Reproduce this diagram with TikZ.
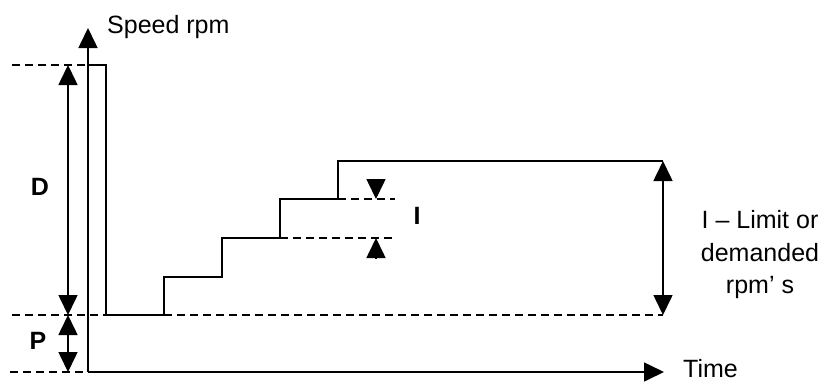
\documentclass[tikz,border=0pt]{standalone}
\usepackage{fontspec}
\setmainfont{Liberation Sans}
\usetikzlibrary{arrows.meta}
\colorlet{colLine}{black}

\tikzset{
  curve/.style={colLine,line width=1.8pt},
  level/.style={colLine,line width=1.6pt,dash pattern=on 8pt off 5pt},
  onehead/.style={colLine,line width=1.6pt,-{Triangle[length=20pt,width=19pt]}},
  twoheads/.style={colLine,line width=1.6pt,{Triangle[length=20pt,width=19pt]}-{Triangle[length=20pt,width=19pt]}},
  txt/.style={font=\fontsize{25}{32.5}\selectfont,inner sep=0pt},
  boldtxt/.style={font=\fontsize{25}{30}\selectfont\bfseries,inner sep=0pt}
}

\begin{document}
\begin{tikzpicture}[x=1pt,y=-1pt]
	\useasboundingbox (0,0) rectangle (833,381);

 % ================================================================
 % Axes
 % ================================================================
	\coordinate (O) at (88,372);
	\coordinate (Ytop) at (88,28);
	\coordinate (Xend) at (664,372);
	\draw[onehead] (O) -- (Ytop);
	\draw[onehead] (O) -- (Xend);
	\node[txt,anchor=base west] (speed) at (107,33) {Speed rpm};
	\node[txt,anchor=base west] (time) at (683,377) {Time};

 % ================================================================
 % Speed curve
 % ================================================================
	\coordinate (topR) at (88,65);
	\coordinate (c1) at (106,65);
	\coordinate (c2) at (106,315);
	\coordinate (s1) at (164,315);
	\coordinate (s2) at (222,277);
	\coordinate (s3) at (280,238);
	\coordinate (s4) at (338,199);
	\coordinate (cend) at (663,161);
	\draw[curve] (topR) -- (c1) -- (c2) -- (s1) |- (s2) |- (s3) |- (s4) |- (cend);

 % ================================================================
 % Levels
 % ================================================================
	\coordinate (topL) at (12,65);
	\coordinate (midL) at (12,315);
	\coordinate (midR) at (663,315);
	\coordinate (botL) at (10,372);
	\coordinate (s4e) at (395,199);
	\coordinate (s3e) at (395,238);
	\draw[level] (topL) -- (topR);
	\draw[level] (midL) -- (c2);
	\draw[level] (s1) -- (midR);
	\draw[level] (botL) -- (O);
	% step height
	\draw[level] (s4) -- (s4e);
	\draw[level] (s3) -- (s3e);

 % ================================================================
 % Dimensions
 % ================================================================
	\coordinate (dD) at (68,65);
	\coordinate (dM) at (68,315);
	\coordinate (dP) at (68,372);
	\draw[twoheads] (dM) -- (dD);
	\draw[twoheads] (dP) -- (dM);
	\node[boldtxt] (D) at (40,187) {D};
	\node[boldtxt] (P) at (38,341) {P};

	\coordinate (iTop) at (376,179);
	\coordinate (iA) at (376,199);
	\coordinate (iB) at (376,238);
	\coordinate (iBot) at (376,259);
	\draw[onehead] (iTop) -- (iA);
	\draw[onehead] (iBot) -- (iB);
	\node[boldtxt] (I) at (417,216) {I};

	\coordinate (rTop) at (663,161);
	\coordinate (rBot) at (663,315);
	\draw[twoheads] (rBot) -- (rTop);
	\node[txt,align=center] (limit) at (760,255) {I -- Limit or\\demanded\\rpm’ s};

\end{tikzpicture}
\end{document}
